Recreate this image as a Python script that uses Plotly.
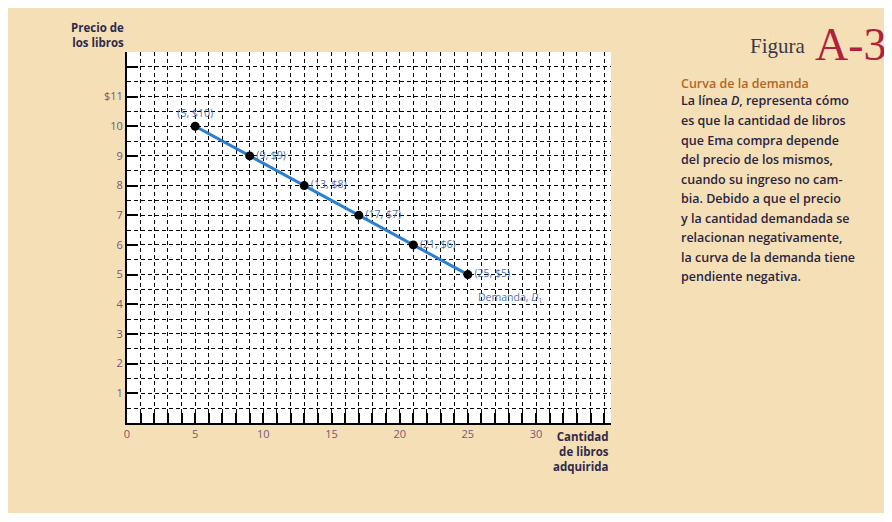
# Demand curve (Figura A-3) with grid paper look
import plotly.graph_objects as go
import numpy as np

# data
QUANTITY = [5, 9, 13, 17, 21, 25]          # books bought
PRICE = [10, 9, 8, 7, 6, 5]                # price in $
POINT_LABELS = ["(5, $10)", "(9, $9)", "(13, $8)", "(17, $7)", "(21, $6)", "(25, $5)"]
LABEL_POS = ["top center", "middle right", "middle right", "middle right", "middle right", "middle right"]

X_TICKS = list(range(0, 36))
X_TICKTEXT = [str(v) if v % 5 == 0 and v <= 30 else "" for v in X_TICKS]
Y_TICKS = list(range(1, 13))
Y_TICKTEXT = ["1", "2", "3", "4", "5", "6", "7", "8", "9", "10", "$11", ""]

SIDE_TITLE = "Curva de la demanda"
SIDE_TEXT = [
    "La línea <i>D</i>, representa cómo",
    "es que la cantidad de libros",
    "que Ema compra depende",
    "del precio de los mismos,",
    "cuando su ingreso no cam-",
    "bia. Debido a que el precio",
    "y la cantidad demandada se",
    "relacionan negativamente,",
    "la curva de la demanda tiene",
    "pendiente negativa.",
]

BG = "#f5dfb7"
TICK_COLOR = "#6e5a78"
TITLE_COLOR = "#2f2a4a"
LABEL_COLOR = "#4a72b0"
FONT = "Open Sans, sans-serif"

# the page body adds an 8px white margin, so the figure is sized to sit inside it
PW, PH = 484, 371   # plot area in px


def px_x(x):
    return (x - 127) / PW


def px_y(y):
    return (423 - y) / PH


fig = go.Figure()

fig.add_trace(go.Scatter(
    x=QUANTITY, y=PRICE,
    mode="lines+markers+text",
    line=dict(color="#2a7fcf", width=3),
    marker=dict(color="black", size=9),
    text=POINT_LABELS,
    textposition=LABEL_POS,
    textfont=dict(family=FONT, size=10.5, color=LABEL_COLOR),
    cliponaxis=False,
    showlegend=False,
))

# "Demanda, D1" under the last point
fig.add_annotation(
    x=QUANTITY[-1], y=PRICE[-1], text="Demanda, <i>D</i><sub>1</sub>",
    xanchor="left", yanchor="middle", xshift=8, yshift=-23, showarrow=False,
    font=dict(family=FONT, size=10.5, color=LABEL_COLOR),
)

fig.update_layout(
    width=884, height=505,
    margin=dict(l=119, r=281, t=44, b=90),
    paper_bgcolor=BG,
    plot_bgcolor="white",
    font=dict(family=FONT),
)

fig.update_xaxes(
    range=[0, 35.5],
    tickmode="array", tickvals=X_TICKS, ticktext=X_TICKTEXT,
    ticks="inside", ticklen=10, tickwidth=1.5, tickcolor="black",
    tickfont=dict(family=FONT, size=11, color=TICK_COLOR),
    showgrid=True, gridcolor="black", gridwidth=1.4, griddash="4px,3px",
    showline=True, linecolor="black", linewidth=2,
    zeroline=False,
)
fig.update_yaxes(
    range=[0, 12.5],
    tickmode="array", tickvals=Y_TICKS, ticktext=Y_TICKTEXT,
    ticks="inside", ticklen=11, tickwidth=2, tickcolor="black",
    tickfont=dict(family=FONT, size=11, color=TICK_COLOR),
    showgrid=True, gridcolor="black", gridwidth=1.4, griddash="4px,3px",
    minor=dict(tickmode="array", tickvals=list(np.arange(0.5, 12.5, 1.0)),
               showgrid=True, gridcolor="black", gridwidth=1.4, griddash="4px,3px", ticks=""),
    showline=True, linecolor="black", linewidth=2,
    zeroline=False,
)

# axis titles
fig.add_annotation(xref="paper", yref="paper", x=-0.003, y=1.0, xanchor="right", yanchor="bottom",
                   text="<b>Precio de<br>los libros</b>", align="right", showarrow=False,
                   font=dict(family=FONT, size=11.5, color=TITLE_COLOR))
fig.add_annotation(xref="paper", yref="paper", x=1.0, y=-0.01, xanchor="right", yanchor="top",
                   text="<b>Cantidad<br>de libros<br>adquirida</b>", align="right", showarrow=False,
                   font=dict(family=FONT, size=11.5, color=TITLE_COLOR))

# figure heading on the right
fig.add_annotation(xref="paper", yref="paper", x=px_x(808), y=px_y(46),
                   xanchor="right", yanchor="middle", text="Figura", showarrow=False,
                   font=dict(family="Liberation Serif, serif", size=21, color="#3a3a4a"))
fig.add_annotation(xref="paper", yref="paper", x=px_x(889), y=px_y(44),
                   xanchor="right", yanchor="middle", text="A-3", showarrow=False,
                   font=dict(family="Liberation Serif, serif", size=46, color="#b0213c"))

# side caption
fig.add_annotation(xref="paper", yref="paper", x=px_x(679), y=px_y(84),
                   xanchor="left", yanchor="middle", text=SIDE_TITLE, showarrow=False,
                   font=dict(family=FONT, size=12.5, color="#b8651e", weight=600))
for i, line in enumerate(SIDE_TEXT):
    fig.add_annotation(xref="paper", yref="paper", x=px_x(679), y=px_y(101 + 19.5 * i),
                       xanchor="left", yanchor="middle", text=line, showarrow=False,
                       font=dict(family=FONT, size=12.5, color="#2a2540", weight=600))

fig.write_html("out.html")
